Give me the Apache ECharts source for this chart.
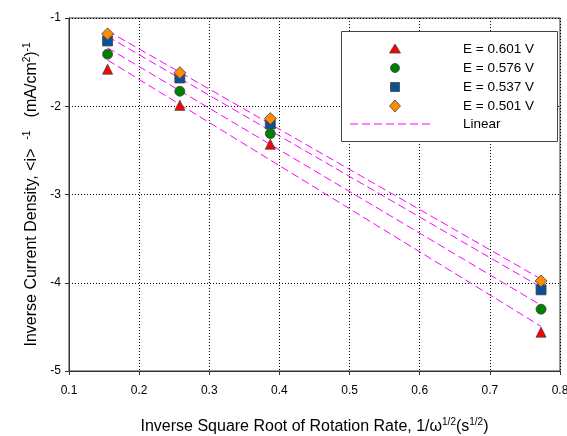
<!DOCTYPE html>
<html>
<head>
<meta charset="utf-8">
<script src="https://cdn.jsdelivr.net/npm/echarts@6/dist/echarts.min.js"></script>
<style>html,body{margin:0;padding:0;background:#fff}#c{width:567px;height:436px}</style>
</head>
<body>
<div id="c"></div>
<script>
const xValues = [0.155, 0.258, 0.387, 0.773];
const e601 = [-1.58, -1.99, -2.43, -4.56];
const e576 = [-1.41, -1.83, -2.31, -4.30];
const e537 = [-1.26, -1.68, -2.20, -4.08];
const e501 = [-1.18, -1.62, -2.14, -3.98];
const seriesNames = ['E = 0.601 V', 'E = 0.576 V', 'E = 0.537 V', 'E = 0.501 V'];
const xTicks = [0.1, 0.2, 0.3, 0.4, 0.5, 0.6, 0.7, 0.8];
const yTicks = [-5, -4, -3, -2, -1];

const FONT = '"Liberation Sans", Arial, sans-serif';
const ys = [e601, e576, e537, e501];
const symbols = ['triangle', 'circle', 'rect', 'diamond'];
const colors = ['#ff0000', '#008000', '#0a4f9a', '#ff8c00'];

function fit(xs, yv) {
  const n = xs.length;
  let sx = 0, sy = 0, sxx = 0, sxy = 0;
  for (let i = 0; i < n; i++) { sx += xs[i]; sy += yv[i]; sxx += xs[i]*xs[i]; sxy += xs[i]*yv[i]; }
  const m = (n*sxy - sx*sy) / (n*sxx - sx*sx);
  const b = (sy - m*sx) / n;
  const x0 = Math.min(...xs), x1 = Math.max(...xs);
  return [[x0, m*x0 + b], [x1, m*x1 + b]];
}

const series = [];
ys.forEach((yv) => {
  series.push({
    type: 'line', data: fit(xValues, yv), symbol: 'none', silent: true, z: 1,
    lineStyle: { color: '#ff00ff', width: 1, type: [8, 4] }
  });
});
ys.forEach((yv, k) => {
  series.push({
    name: seriesNames[k], type: 'scatter', z: 5,
    data: xValues.map((x, i) => [x, yv[i]]),
    symbol: symbols[k], symbolSize: k === 3 ? 12 : 10,
    itemStyle: { color: colors[k], borderColor: '#444', borderWidth: 0.8, opacity: 1 }
  });
});

// legend drawn as graphic
const LX = 395, rows = [49, 68, 87, 106, 124], TX = 463;
const legendEls = [
  { type: 'rect', shape: { x: 341.5, y: 31.5, width: 216, height: 110 }, style: { fill: '#fff', stroke: '#444', lineWidth: 1 } },
  { type: 'polygon', shape: { points: [[LX, rows[0]-5], [LX+5.5, rows[0]+4], [LX-5.5, rows[0]+4]] }, style: { fill: colors[0], stroke: '#444', lineWidth: 0.8 } },
  { type: 'circle', shape: { cx: LX, cy: rows[1], r: 4.5 }, style: { fill: colors[1], stroke: '#444', lineWidth: 0.8 } },
  { type: 'rect', shape: { x: LX-4.5, y: rows[2]-4.5, width: 9, height: 9 }, style: { fill: colors[2], stroke: '#444', lineWidth: 0.8 } },
  { type: 'polygon', shape: { points: [[LX, rows[3]-6], [LX+5.5, rows[3]], [LX, rows[3]+6], [LX-5.5, rows[3]]] }, style: { fill: colors[3], stroke: '#444', lineWidth: 0.8 } },
  { type: 'line', shape: { x1: 350, y1: rows[4], x2: 430, y2: rows[4] }, style: { stroke: '#ff00ff', lineWidth: 1, lineDash: [8, 4] } }
];
seriesNames.concat(['Linear']).forEach((t, i) => {
  legendEls.push({ type: 'text', x: TX, y: rows[i], style: { text: t, font: '13.5px ' + FONT, fill: '#000', verticalAlign: 'middle' } });
});
legendEls.forEach((el, i) => { el.z = 100 + (i === 0 ? 0 : 1); });

const supStyle = { fontSize: 10, fontFamily: FONT, color: '#000', padding: [0, 0, 9, 0] };
const option = {
  animation: false,
  backgroundColor: '#fff',
  grid: { left: 69, right: 7, top: 18, bottom: 65, show: true, borderColor: '#333', borderWidth: 1, outerBoundsMode: 'none', containLabel: false },
  xAxis: {
    type: 'value', min: 0.1, max: 0.8, interval: 0.1,
    name: 'Inverse Square Root of Rotation Rate, 1/ω{s|1/2}(s{s|1/2})',
    nameLocation: 'middle', nameGap: 46,
    nameTextStyle: { fontSize: 16, fontFamily: FONT, color: '#000', rich: { s: supStyle } },
    axisLine: { lineStyle: { color: '#333', width: 1 } },
    axisTick: { show: true, length: 4, lineStyle: { color: '#333' } },
    axisLabel: { fontSize: 12, fontFamily: FONT, color: '#000', margin: 14, formatter: v => v.toFixed(1) },
    splitLine: { show: true, lineStyle: { color: '#000', type: [1, 2], width: 1 } }
  },
  yAxis: {
    type: 'value', min: -5, max: -1, interval: 1,
    name: 'Inverse Current Density, <i>  {s|-1}   (mA/cm{s|2}){s|-1}',
    nameLocation: 'middle', nameGap: 28, nameRotate: 90,
    nameTextStyle: { fontSize: 16, fontFamily: FONT, color: '#000', rich: { s: supStyle } },
    axisLine: { show: true, lineStyle: { color: '#333', width: 1 } },
    axisTick: { show: true, length: 4, lineStyle: { color: '#333' } },
    axisLabel: { fontSize: 12, fontFamily: FONT, color: '#000', margin: 8 },
    splitLine: { show: true, lineStyle: { color: '#000', type: [1, 2], width: 1 } }
  },
  graphic: legendEls,
  series: series
};
const chart = echarts.init(document.getElementById('c'), null, { renderer: 'canvas' });
chart.setOption(option);
</script>
</body>
</html>
